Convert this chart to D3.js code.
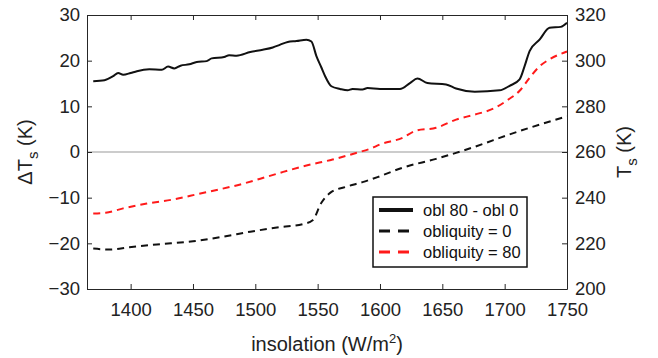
<!DOCTYPE html>
<html>
<head>
<meta charset="utf-8">
<script src="https://cdn.jsdelivr.net/npm/d3@7"></script>
<style>
  body { margin: 0; background: #fff; }
  svg { font-family: "Liberation Sans", Arial, Helvetica, sans-serif; }
</style>
</head>
<body>
<div id="chart"></div>
<script>
// values
const diffX = [1370, 1379, 1386, 1390, 1394, 1400, 1405, 1415, 1425, 1430, 1435, 1440, 1447, 1453, 1461, 1465, 1475, 1479, 1485, 1496, 1506, 1514, 1520, 1526, 1533, 1541, 1545, 1549, 1553, 1556, 1561, 1568, 1574, 1578, 1586, 1590, 1600, 1616, 1624, 1630, 1638, 1653, 1661, 1676, 1696, 1704, 1712, 1716, 1720, 1728, 1736, 1745, 1750];
const diffY = [15.5, 15.7, 16.6, 17.3, 16.9, 17.3, 17.7, 18.1, 18.0, 18.7, 18.3, 18.9, 19.2, 19.7, 19.9, 20.5, 20.8, 21.2, 21.1, 21.9, 22.4, 22.9, 23.5, 24.1, 24.3, 24.6, 24.2, 21.0, 18.5, 16.6, 14.4, 13.8, 13.5, 13.8, 13.7, 14.0, 13.8, 13.8, 15.1, 16.1, 15.1, 14.8, 13.9, 13.2, 13.5, 14.5, 15.9, 18.8, 22.1, 24.6, 27.2, 27.4, 28.3];

const obl80X = [1370, 1380, 1394, 1413, 1434, 1455, 1471, 1488, 1504, 1520, 1541, 1562, 1581, 1592, 1600, 1618, 1629, 1645, 1661, 1676, 1691, 1703, 1712, 1720, 1728, 1736, 1750];
const obl80Y = [233.1, 233.4, 235.3, 237.4, 239.2, 241.7, 243.6, 245.8, 248.3, 250.9, 254.1, 256.7, 259.6, 261.4, 263.3, 266.2, 269.4, 270.6, 274.2, 276.4, 279.0, 283.0, 286.8, 292.5, 297.5, 300.6, 304.0];

const obl0X = [1370, 1383, 1399, 1421, 1450, 1474, 1496, 1520, 1538, 1546, 1553, 1560, 1573, 1586, 1598, 1618, 1645, 1661, 1685, 1696, 1720, 1750];
const obl0Y = [217.7, 217.3, 218.3, 219.5, 220.9, 222.9, 225.1, 227.1, 228.4, 230.1, 237.8, 242.1, 244.8, 246.8, 249.0, 253.1, 257.0, 259.6, 264.0, 266.2, 270.6, 275.6];

const xTicks = [1400, 1450, 1500, 1550, 1600, 1650, 1700, 1750];
const leftTicks = [-30, -20, -10, 0, 10, 20, 30];
const rightTicks = [200, 220, 240, 260, 280, 300, 320];
const legendLabels = ["obl 80 - obl 0", "obliquity = 0", "obliquity = 80"];

const W = 658, H = 358;
const mLeft = 87, mRight = 567, mTop = 15, mBottom = 289;
const axisColor = "#262626";
const red = "#ff1a1a";

const svg = d3.select("#chart").append("svg")
    .attr("width", W)
    .attr("height", H);

const x = d3.scaleLinear().domain([1365, 1750]).range([mLeft, mRight]);
const yL = d3.scaleLinear().domain([-30, 30]).range([mBottom, mTop]);
const yR = d3.scaleLinear().domain([200, 320]).range([mBottom, mTop]);

// zero line
svg.append("line")
    .attr("x1", mLeft).attr("x2", mRight)
    .attr("y1", yL(0)).attr("y2", yL(0))
    .attr("stroke", "#9a9a9a").attr("stroke-width", 1.2);

// lines
const lineL = d3.line().x(d => x(d[0])).y(d => yL(d[1])).curve(d3.curveMonotoneX);
const lineR = d3.line().x(d => x(d[0])).y(d => yR(d[1])).curve(d3.curveMonotoneX);

svg.append("path")
    .datum(obl0X.map((v, i) => [v, obl0Y[i]]))
    .attr("d", lineR)
    .attr("fill", "none").attr("stroke", "#111").attr("stroke-width", 2)
    .attr("stroke-dasharray", "7,5");

svg.append("path")
    .datum(obl80X.map((v, i) => [v, obl80Y[i]]))
    .attr("d", lineR)
    .attr("fill", "none").attr("stroke", red).attr("stroke-width", 2)
    .attr("stroke-dasharray", "7,5");

svg.append("path")
    .datum(diffX.map((v, i) => [v, diffY[i]]))
    .attr("d", lineL)
    .attr("fill", "none").attr("stroke", "#111").attr("stroke-width", 2);

// axes, box with inward ticks
const fs = "18.5px";
svg.append("g")
    .attr("transform", `translate(0,${mBottom})`)
    .call(d3.axisBottom(x).tickValues(xTicks).tickFormat(d3.format("d"))
        .tickSizeInner(-5).tickSizeOuter(0).tickPadding(14))
    .call(g => g.selectAll("text").style("font-size", fs).attr("fill", "#222"));
svg.append("g")
    .attr("transform", `translate(0,${mTop})`)
    .call(d3.axisTop(x).tickValues(xTicks).tickSizeInner(-5).tickSizeOuter(0).tickFormat(""));
svg.append("g")
    .attr("transform", `translate(${mLeft},0)`)
    .call(d3.axisLeft(yL).tickValues(leftTicks).tickSizeInner(-5).tickSizeOuter(0).tickPadding(7))
    .call(g => g.selectAll("text").style("font-size", fs).attr("fill", "#222"));
svg.append("g")
    .attr("transform", `translate(${mRight},0)`)
    .call(d3.axisRight(yR).tickValues(rightTicks).tickSizeInner(-5).tickSizeOuter(0).tickPadding(8))
    .call(g => g.selectAll("text").style("font-size", fs).attr("fill", "#222"));

svg.selectAll(".domain, .tick line").attr("stroke", axisColor).attr("stroke-width", 1);

// axis titles
svg.append("text")
    .attr("x", (mLeft + mRight) / 2).attr("y", 351)
    .attr("text-anchor", "middle")
    .style("font-size", "20px").attr("fill", "#222")
    .html('insolation (W/m<tspan dy="-8" font-size="13px">2</tspan><tspan dy="8">)</tspan>');

svg.append("text")
    .attr("transform", `translate(32,${(mTop + mBottom) / 2}) rotate(-90)`)
    .attr("text-anchor", "middle")
    .style("font-size", "20px").attr("fill", "#222")
    .html('ΔT<tspan dy="6" font-size="15px">s</tspan><tspan dy="-6"> (K)</tspan>');

svg.append("text")
    .attr("transform", `translate(631,${(mTop + mBottom) / 2}) rotate(-90)`)
    .attr("text-anchor", "middle")
    .style("font-size", "20px").attr("fill", "#222")
    .html('T<tspan dy="6" font-size="15px">s</tspan><tspan dy="-6"> (K)</tspan>');

// legend
const lg = svg.append("g").attr("transform", "translate(373,197)");
lg.append("rect")
    .attr("width", 154).attr("height", 70)
    .attr("fill", "#fff").attr("stroke", "#111").attr("stroke-width", 1.5);
const legendStyles = [
    {color: "#111", dash: null, width: 4},
    {color: "#111", dash: "11,8", width: 3},
    {color: red, dash: "11,8", width: 3}
];
legendLabels.forEach((lab, i) => {
    const yy = 13 + i * 21;
    lg.append("line")
        .attr("x1", 6).attr("x2", 40).attr("y1", yy).attr("y2", yy)
        .attr("stroke", legendStyles[i].color)
        .attr("stroke-width", legendStyles[i].width)
        .attr("stroke-dasharray", legendStyles[i].dash);
    lg.append("text")
        .attr("x", 50).attr("y", yy + 6)
        .style("font-size", "16.5px").attr("fill", "#111")
        .text(lab);
});
</script>
</body>
</html>
